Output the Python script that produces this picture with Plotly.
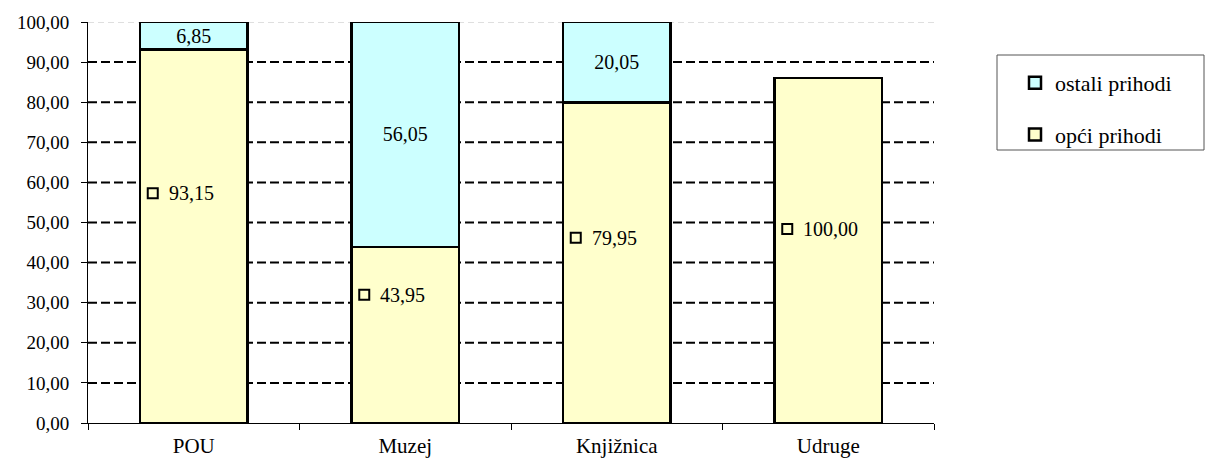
import plotly.graph_objects as go

categories = ["POU", "Muzej", "Knjižnica", "Udruge"]
opci = [93.15, 43.95, 79.95, 86.0]
ostali = [6.85, 56.05, 20.05, 0.0]
opci_labels = ["93,15", "43,95", "79,95", "100,00"]
ostali_labels = ["6,85", "56,05", "20,05", ""]
opci_label_pos = [57.3, 32.0, 46.2, 48.4]
y_ticks = [0, 10, 20, 30, 40, 50, 60, 70, 80, 90, 100]
y_ticklabels = ["0,00", "10,00", "20,00", "30,00", "40,00", "50,00", "60,00", "70,00", "80,00", "90,00", "100,00"]

FONT = "Times New Roman, Liberation Serif, serif"
YELLOW = "#FFFFCC"
CYAN = "#CCFFFF"

fig = go.Figure()
fig.add_trace(go.Bar(
    x=categories, y=opci, name="opći prihodi", legendgroup="a", legendrank=2,
    marker=dict(color=YELLOW, line=dict(color="black", width=2.5)),
))
fig.add_trace(go.Bar(
    x=categories, y=ostali, name="ostali prihodi", legendgroup="b", legendrank=1,
    marker=dict(color=CYAN, line=dict(color="black", width=2.5)),
    text=ostali_labels, textposition="inside", insidetextanchor="middle",
    constraintext="none", textangle=0,
    textfont=dict(family=FONT, size=20, color="black"),
))

shapes = []
for t in y_ticks[1:]:
    shapes.append(dict(
        type="line", xref="paper", yref="y", x0=0, x1=1, y0=t, y1=t,
        line=dict(color="#C0C0C0" if t == 100 else "black", width=1 if t == 100 else 2,
                  dash="6px,4px" if t == 100 else "9px,4px"),
        layer="below",
    ))

# legend frame
shapes.append(dict(
    type="rect", xref="paper", yref="paper",
    x0=(997 - 88) / 846, x1=(1204 - 88) / 846,
    y0=(423 - 150) / 401, y1=(423 - 55) / 401,
    line=dict(color="#555555", width=1), fillcolor="rgba(0,0,0,0)",
))

annotations = []
for i, (lab, pos) in enumerate(zip(opci_labels, opci_label_pos)):
    shapes.append(dict(
        type="rect", xref="x", yref="y", xsizemode="pixel", ysizemode="pixel",
        xanchor=i, yanchor=pos, x0=-46, x1=-36, y0=-5, y1=5,
        line=dict(color="black", width=2), fillcolor=YELLOW, layer="above",
    ))
    annotations.append(dict(
        x=i, y=pos, xref="x", yref="y", text=lab, showarrow=False,
        xanchor="left", yanchor="middle", xshift=-27,
        font=dict(family=FONT, size=20, color="black"),
    ))

fig.update_layout(
    barmode="stack", bargap=0.49,
    width=1205, height=463,
    margin=dict(l=88, r=271, t=22, b=40, autoexpand=False),
    paper_bgcolor="white", plot_bgcolor="white",
    font=dict(family=FONT, size=19, color="black"),
    shapes=shapes, annotations=annotations,
    legend=dict(
        x=(1015 - 88) / 846, y=(423 - 62) / 401, xanchor="left", yanchor="top",
        borderwidth=0, bgcolor="rgba(0,0,0,0)",
        traceorder="grouped", tracegroupgap=20,
        font=dict(family=FONT, size=22, color="black"),
        itemwidth=30,
    ),
    xaxis=dict(
        showline=True, linecolor="black", linewidth=1,
        ticks="outside", tickson="boundaries", ticklen=6, tickcolor="black",
        showgrid=False, tickfont=dict(family=FONT, size=21),
        ticklabelstandoff=4,
    ),
    yaxis=dict(
        range=[0, 100], tickvals=y_ticks, ticktext=y_ticklabels,
        showline=True, linecolor="black", linewidth=1,
        ticks="outside", ticklen=6, tickcolor="black",
        showgrid=False, zeroline=False, tickfont=dict(family=FONT, size=19),
        ticklabelstandoff=8,
    ),
)

fig.write_html("out.html", config={"displayModeBar": False},
               post_script="document.body.style.margin='0';document.body.style.padding='0';")
